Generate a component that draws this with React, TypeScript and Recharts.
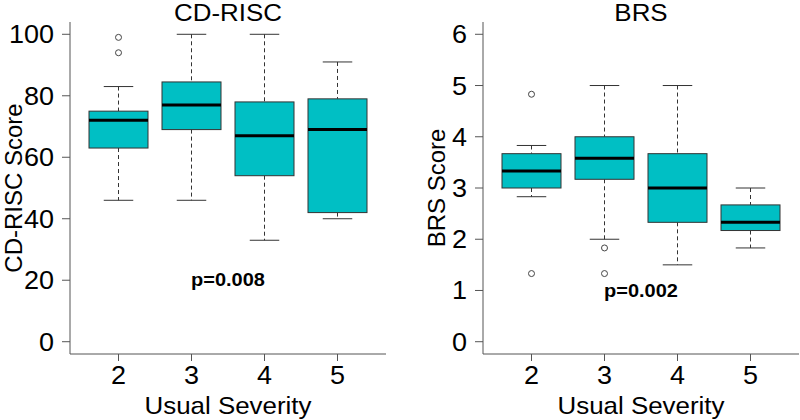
import React from 'react'
import { ComposedChart, Bar, XAxis, YAxis } from 'recharts'

const severity = ['2', '3', '4', '5']

// CD-RISC box statistics per severity group
const cdLow = [46, 46, 33, 40]
const cdQ1 = [63, 69, 54, 42]
const cdMedian = [72, 77, 67, 69]
const cdQ3 = [75, 84.5, 78, 79]
const cdHigh = [83, 100, 100, 91]
const cdOutliers = [[94, 99], [], [], []]
const cdTicks = [0, 20, 40, 60, 80, 100]

// BRS box statistics
const brsLow = [2.83, 2, 1.5, 1.83]
const brsQ1 = [3, 3.17, 2.33, 2.17]
const brsMedian = [3.33, 3.58, 3, 2.33]
const brsQ3 = [3.67, 4, 3.67, 2.67]
const brsHigh = [3.83, 5, 5, 3]
const brsOutliers = [[4.83, 1.33], [1.83, 1.33], [], []]
const brsTicks = [0, 1, 2, 3, 4, 5, 6]

const FILL = '#00BFC4'
const FRAME = '#555'
const FONT = '"Liberation Sans", Arial, sans-serif'
// the source image is slightly wider than tall, text included
const SX = 1.08

const stretch = (x: number, y: number) => `translate(${x} ${y}) scale(${SX} 1) translate(${-x} ${-y})`

function buildRows(low: number[], q1: number[], med: number[], q3: number[], high: number[], out: number[][]) {
  return severity.map((sev, i) => ({
    sev,
    low: low[i],
    q1: q1[i],
    median: med[i],
    q3: q3[i],
    high: high[i],
    outliers: out[i],
  }))
}

const cdRows = buildRows(cdLow, cdQ1, cdMedian, cdQ3, cdHigh, cdOutliers)
const brsRows = buildRows(brsLow, brsQ1, brsMedian, brsQ3, brsHigh, brsOutliers)

function BoxShape(props: any) {
  const { x, y, width, height, payload } = props
  const { low, q1, median, q3, high, outliers } = payload
  const k = height / (high - low)
  const py = (v: number) => y + (high - v) * k
  const cx = x + width / 2
  const half = width / 4
  return (
    <g>
      <line x1={cx} x2={cx} y1={py(high)} y2={py(q3)} stroke="#333" strokeDasharray="4 3" />
      <line x1={cx} x2={cx} y1={py(q1)} y2={py(low)} stroke="#333" strokeDasharray="4 3" />
      <line x1={cx - half} x2={cx + half} y1={py(high)} y2={py(high)} stroke="#333" />
      <line x1={cx - half} x2={cx + half} y1={py(low)} y2={py(low)} stroke="#333" />
      <rect x={x} y={py(q3)} width={width} height={py(q1) - py(q3)} fill={FILL} stroke="#333" />
      <line x1={x} x2={x + width} y1={py(median)} y2={py(median)} stroke="#000" strokeWidth={3} />
      {outliers.map((v: number, i: number) => (
        <circle key={i} cx={cx} cy={py(v)} r={3} fill="none" stroke="#444" />
      ))}
    </g>
  )
}

function XTick({ x, y, payload }: any) {
  return (
    <text x={x} y={y} dy="0.71em" textAnchor="middle" fontSize={25} fontFamily={FONT} fill="#000" transform={stretch(x, y)}>
      {payload.value}
    </text>
  )
}

function YTick({ x, y, payload }: any) {
  return (
    <text x={x} y={y} dy="0.36em" textAnchor="end" fontSize={25} fontFamily={FONT} fill="#000" transform={stretch(x, y)}>
      {payload.value}
    </text>
  )
}

function Panel({ data, domain, ticks, yWidth, rightMargin, yLabel, yLabelX }: any) {
  return (
    <ComposedChart
      width={400}
      height={420}
      data={data}
      margin={{ top: 22, right: rightMargin, bottom: 0, left: 0 }}
    >
      <XAxis
        dataKey="sev"
        height={66}
        padding={{ left: 12, right: 12 }}
        axisLine={{ stroke: FRAME }}
        tickLine={{ stroke: FRAME }}
        tickSize={7}
        tickMargin={5}
        tick={<XTick />}
        label={{
          content: ({ viewBox }: any) => {
            const lx = viewBox.x + viewBox.width / 2
            const ly = viewBox.y + 60
            return (
              <text x={lx} y={ly} textAnchor="middle" fontSize={24} fontFamily={FONT} fill="#000" transform={stretch(lx, ly)}>
                Usual Severity
              </text>
            )
          },
        }}
      />
      <XAxis xAxisId="t" orientation="top" dataKey="sev" height={0} tick={false} tickLine={false} axisLine={{ stroke: FRAME }} />
      <YAxis
        type="number"
        domain={domain}
        ticks={ticks}
        allowDataOverflow
        width={yWidth}
        axisLine={{ stroke: FRAME }}
        tickLine={{ stroke: FRAME }}
        tickSize={8}
        tickMargin={8}
        tick={<YTick />}
        label={{
          content: ({ viewBox }: any) => {
            const cy = viewBox.y + viewBox.height / 2
            return (
              <text
                x={yLabelX}
                y={cy}
                transform={`rotate(-90 ${yLabelX} ${cy})`}
                textAnchor="middle"
                fontSize={24}
                fontFamily={FONT}
                fill="#000"
              >
                {yLabel}
              </text>
            )
          },
        }}
      />
      <YAxis yAxisId="r" orientation="right" type="number" domain={domain} width={0} tick={false} tickLine={false} axisLine={{ stroke: FRAME }} />
      <Bar dataKey={(d: any) => [d.low, d.high]} barSize={59} shape={BoxShape} isAnimationActive={false} />
    </ComposedChart>
  )
}

function Caption({ x, y, size, bold, children }: any) {
  return (
    <text x={x} y={y} textAnchor="middle" fontSize={size} fontWeight={bold ? 'bold' : 'normal'} fontFamily={FONT} fill="#000" transform={stretch(x, y)}>
      {children}
    </text>
  )
}

export default function App() {
  return (
    <div style={{ position: 'absolute', left: 0, top: 0, width: 800, height: 420, background: '#fff', fontFamily: FONT }}>
      <div style={{ position: 'absolute', left: 0, top: 0 }}>
        <Panel data={cdRows} domain={[-4, 104]} ticks={cdTicks} yWidth={70} rightMargin={14} yLabel="CD-RISC Score" yLabelX={22} />
      </div>
      <div style={{ position: 'absolute', left: 400, top: 0 }}>
        <Panel data={brsRows} domain={[-0.24, 6.24]} ticks={brsTicks} yWidth={83} rightMargin={1} yLabel="BRS Score" yLabelX={45} />
      </div>
      <svg width={800} height={420} style={{ position: 'absolute', left: 0, top: 0, pointerEvents: 'none' }}>
        <Caption x={228} y={21} size={24}>CD-RISC</Caption>
        <Caption x={641} y={21} size={24}>BRS</Caption>
        <Caption x={228} y={286} size={18.5} bold>p=0.008</Caption>
        <Caption x={641} y={297} size={18.5} bold>p=0.002</Caption>
      </svg>
    </div>
  )
}
